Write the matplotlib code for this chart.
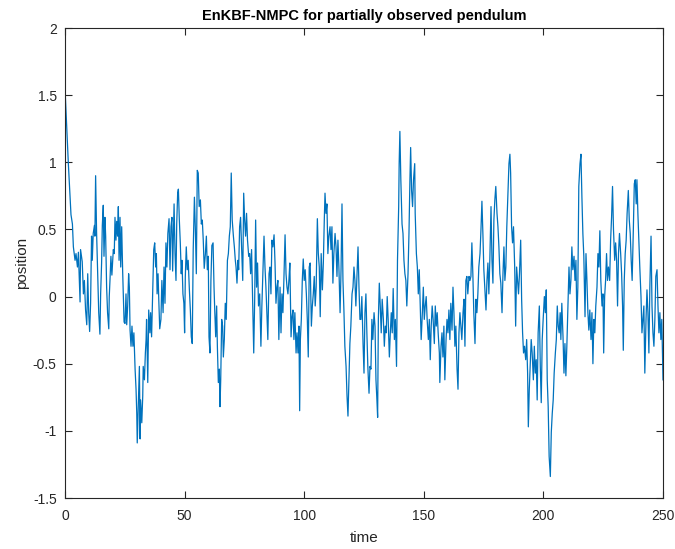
import numpy as np
import matplotlib
matplotlib.use("Agg")
import matplotlib.pyplot as plt

plt.rcParams['font.family'] = ['Liberation Sans', 'DejaVu Sans']
plt.rcParams['axes.unicode_minus'] = False

# ---- data (time, position) ----
time_a = [0, 1.4, 2.1, 2.5, 3.1, 3.5, 4.2, 4.6, 5.2, 5.6, 6.3, 6.5, 7.2, 7.7, 8.1, 8.6, 9.1, 9.5, 9.9, 10.3,
          10.7, 11.1, 11.4, 11.8, 12.3, 12.5, 12.8, 13.2, 13.7, 14.1, 14.6, 14.9, 15.3, 15.6, 16.0, 16.3, 16.7,
          17.0, 17.4, 17.8, 18.3, 18.5, 18.8, 19.2, 19.6, 20.2, 20.6, 20.9, 21.3, 21.6, 22.0, 22.3, 22.6, 23.0,
          23.3, 23.7, 24.1, 24.7, 25.1, 25.5, 25.8, 26.2, 26.6, 26.9, 27.2, 27.6, 28.0, 28.4, 28.8, 29.3, 29.7,
          30.0, 30.2, 30.5, 30.8, 31.1, 31.4, 31.6, 32.1, 32.5, 32.7, 33.2, 33.6, 33.9, 34.1, 34.6, 35.0, 35.5,
          35.8, 36.2, 36.6, 37.1, 37.5, 37.9, 38.2, 38.5, 38.9, 39.2, 39.6]
pos_a = [1.55, 0.99, 0.74, 0.61, 0.54, 0.37, 0.27, 0.32, 0.22, 0.33, -0.04, 0.35, 0.26, 0.02, 0.12, -0.10, -0.21,
         0.17, -0.12, -0.26, -0.05, 0.45, 0.27, 0.47, 0.53, 0.45, 0.90, 0.48, 0.15, -0.12, -0.28, 0.02, 0.25,
         0.53, 0.68, 0.30, 0.59, 0.45, 0.07, -0.12, -0.24, 0.00, 0.12, 0.30, 0.16, 0.35, 0.32, 0.59, 0.42, 0.56,
         0.45, 0.67, 0.27, 0.59, 0.22, 0.52, 0.19, -0.19, -0.20, 0.02, -0.21, -0.07, 0.17, 0.07, -0.25, -0.37,
         -0.22, -0.37, -0.27, -0.54, -0.69, -0.87, -1.09, -0.89, -0.72, -0.52, -1.06, -0.77, -0.94, -0.74, -0.52,
         -0.62, -0.42, -0.32, -0.17, -0.64, -0.10, -0.27, -0.12, -0.30, 0.00, 0.35, 0.40, 0.22, 0.32, 0.02, 0.17,
         -0.02, -0.24]

time_b = [40.1, 40.5, 41.0, 41.4, 41.8, 42.2, 42.6, 43.0, 43.5, 43.9, 44.3, 44.7, 45.0, 45.6, 46.0, 46.4, 46.7,
          47.1, 47.4, 47.8, 48.2, 48.6, 48.9, 49.3, 49.7, 50.0, 50.3, 50.7, 51.1, 51.5, 52.0, 52.4, 52.8, 53.2,
          53.6, 54.1, 54.5, 54.9, 55.3, 55.7, 56.1, 56.6, 57.0, 57.4, 57.8, 58.2, 58.7, 59.1, 59.5, 59.9, 60.2,
          60.6, 61.0, 61.4, 61.9, 62.3, 62.6, 63.0, 63.4, 63.7, 64.1, 64.5, 64.8, 65.1, 65.5, 65.9, 66.2, 66.6,
          67.0, 67.4, 67.9, 68.3, 68.7, 69.1, 69.5, 69.9, 70.4, 70.8, 71.2, 71.5, 71.9, 72.3, 72.6, 73.0, 73.4,
          73.8, 74.3, 74.7, 75.1, 75.5, 75.9, 76.3, 76.8, 77.2, 77.6, 78.0, 78.4, 78.9, 79.3, 79.7, 80.1, 80.5,
          80.9, 81.4]
pos_b = [-0.17, 0.12, -0.12, 0.22, -0.05, 0.40, 0.22, 0.47, 0.58, 0.20, 0.52, 0.59, 0.19, 0.69, 0.32, 0.12, 0.54,
         0.77, 0.80, 0.57, 0.40, 0.17, 0.27, 0.02, -0.05, -0.27, 0.15, 0.37, 0.20, 0.27, 0.05, -0.10, -0.30, -0.35,
         0.35, 0.74, 0.50, 0.17, 0.94, 0.92, 0.67, 0.72, 0.54, 0.57, 0.42, 0.21, 0.32, 0.45, 0.20, 0.30, -0.30,
         -0.42, 0.12, 0.38, 0.40, 0.07, -0.10, -0.30, -0.07, -0.37, -0.64, -0.54, -0.82, -0.62, -0.17, -0.22,
         -0.45, -0.32, -0.05, -0.17, 0.27, 0.32, 0.45, 0.52, 0.92, 0.57, 0.45, 0.37, 0.27, 0.22, 0.10, 0.27, 0.20,
         0.52, 0.59, 0.37, 0.12, 0.77, 0.57, 0.45, 0.62, 0.42, 0.30, 0.32, 0.17, 0.35, 0.02, -0.42, -0.02, 0.57,
         0.07, 0.25, -0.07, 0.02]

time_c = [81.9, 82.3, 82.8, 83.2, 83.6, 84.0, 84.4, 84.8, 85.3, 85.7, 86.1, 86.5, 86.9, 87.4, 87.8, 88.2, 88.6,
          89.0, 89.4, 89.9, 90.3, 90.7, 91.1, 91.5, 92.0, 92.4, 92.8, 93.2, 93.6, 94.0, 94.5, 94.9, 95.3, 95.7,
          96.1, 96.6, 97.0, 97.4, 97.8, 98.1, 98.4, 98.8, 99.2, 99.6, 100.0, 100.4, 100.9, 101.3, 101.7, 102.1,
          102.5, 103.0, 103.4, 103.8, 104.2, 104.6, 105.0, 105.5, 105.9, 106.3, 106.7, 107.1, 107.6, 108.0,
          108.4, 108.7, 109.1, 109.5, 109.9, 110.3, 110.8, 111.2, 111.6, 112.0, 112.4, 112.9, 113.3, 113.7,
          114.1, 114.5, 115.0, 115.4, 115.8, 116.2, 116.6, 117.0, 117.5, 117.9, 118.3, 118.7, 119.1, 119.5,
          120.0, 120.4, 120.8, 121.2, 121.6, 122.1, 122.5, 122.9, 123.3]
pos_c = [-0.37, -0.07, 0.22, 0.45, 0.22, 0.07, -0.12, -0.32, 0.17, 0.22, 0.02, 0.42, 0.37, 0.46, 0.25, -0.05,
         0.07, 0.12, -0.32, 0.07, -0.27, 0.02, -0.12, 0.12, 0.46, 0.17, 0.07, 0.02, 0.12, 0.25, -0.30, -0.15,
         -0.10, -0.32, -0.12, -0.42, -0.27, -0.42, -0.22, -0.85, -0.32, -0.17, 0.12, 0.28, 0.12, 0.20, 0.02,
         -0.17, -0.45, 0.22, 0.25, -0.22, -0.07, 0.02, 0.15, -0.07, 0.07, 0.58, 0.32, 0.22, -0.15, 0.32, 0.05,
         0.25, 0.57, 0.77, 0.62, 0.69, 0.32, 0.45, 0.52, 0.35, 0.52, 0.10, 0.32, 0.47, 0.37, 0.15, 0.42, 0.22,
         -0.12, 0.20, 0.69, 0.12, -0.10, -0.37, -0.52, -0.74, -0.89, -0.62, -0.35, -0.22, 0.02, 0.07, 0.22, 0.12,
         -0.07, 0.17, 0.37, 0.07, -0.17]

time_d = [123.7, 124.1, 124.6, 125.0, 125.4, 125.8, 126.2, 126.6, 127.1, 127.5, 127.9, 128.3, 128.7, 129.2,
          129.6, 130.0, 130.4, 130.7, 131.0, 131.4, 131.8, 132.2, 132.6, 133.1, 133.5, 133.9, 134.3, 134.7,
          135.1, 135.6, 136.0, 136.4, 136.8, 137.2, 137.7, 138.1, 138.6, 139.0, 139.5, 139.7, 140.0, 140.4,
          140.9, 141.3, 141.7, 142.1, 142.5, 142.9, 143.4, 143.8, 144.2, 144.5, 144.9, 145.3, 145.7, 146.2,
          146.4, 146.9, 147.3, 147.7, 148.1, 148.5, 148.9, 149.4, 149.8, 150.2, 150.6, 151.0, 151.4, 151.9,
          152.3, 152.7, 153.1, 153.5, 153.9, 154.4, 154.8, 155.2, 155.6, 156.0, 156.5, 156.7, 157.2, 157.6,
          158.0, 158.4, 158.8, 159.3, 159.7, 160.1, 160.5, 160.9, 161.3, 161.8, 162.2, 162.6, 163.0, 163.4,
          163.9, 164.3, 164.7, 165.1]
pos_d = [-0.17, 0.00, -0.35, -0.57, -0.12, 0.02, -0.27, -0.52, -0.72, -0.52, -0.54, -0.17, -0.32, -0.12, -0.22,
         -0.62, -0.77, -0.90, -0.17, 0.10, -0.07, -0.27, -0.02, -0.17, -0.37, -0.22, -0.27, 0.00, -0.17, -0.45,
         -0.27, -0.12, -0.27, 0.06, -0.32, -0.17, -0.52, 0.27, 0.67, 0.99, 1.23, 0.87, 0.54, 0.47, 0.27, 0.17,
         0.12, -0.07, 0.17, 0.47, 0.87, 1.11, 0.79, 0.67, 0.87, 0.99, 0.62, 0.32, 0.22, 0.02, 0.20, -0.05, -0.32,
         -0.12, 0.07, -0.17, -0.07, 0.00, -0.17, -0.32, -0.17, -0.47, -0.22, -0.07, -0.17, -0.35, -0.07, -0.22,
         -0.12, -0.27, -0.42, -0.64, -0.37, -0.27, -0.45, -0.22, -0.62, -0.32, -0.17, -0.27, -0.10, -0.32, -0.05,
         -0.25, 0.07, -0.12, -0.37, -0.22, -0.54, -0.69, -0.27, -0.12]

time_e = [165.5, 165.9, 166.4, 166.8, 167.2, 167.6, 168.0, 168.4, 168.9, 169.3, 169.7, 170.1, 170.5, 170.9,
          171.4, 171.8, 172.2, 172.6, 173.0, 173.5, 173.9, 174.3, 174.7, 175.1, 175.5, 176.0, 176.4, 176.8,
          177.2, 177.6, 178.1, 178.5, 178.9, 179.3, 179.7, 180.1, 180.6, 181.0, 181.4, 181.8, 182.2, 182.7,
          183.1, 183.5, 183.9, 184.3, 184.7, 185.2, 185.6, 186.0, 186.3, 186.7, 187.1, 187.5, 188.0, 188.4,
          188.8, 189.2, 189.6, 190.0, 190.5, 190.9, 191.3, 191.7, 192.1, 192.6, 193.0, 193.4, 193.7, 194.1,
          194.5, 194.9, 195.3, 195.8, 196.2, 196.6, 197.0, 197.4, 197.8, 198.3, 198.7, 199.1, 199.5, 199.9,
          200.4, 200.8, 201.2, 201.6, 202.0, 202.4, 202.9, 203.3, 203.7, 204.1, 204.5, 205.0, 205.4, 205.8,
          206.2, 206.6, 207.0]
pos_e = [-0.22, -0.32, -0.12, -0.02, -0.37, 0.12, 0.15, 0.02, 0.15, 0.12, 0.15, 0.40, 0.17, -0.12, -0.35, -0.02,
         -0.12, 0.02, 0.22, 0.32, 0.50, 0.71, 0.47, 0.20, 0.07, -0.10, 0.12, 0.25, 0.02, 0.27, 0.67, 0.27, 0.10,
         0.57, 0.72, 0.82, 0.62, 0.52, 0.37, 0.17, 0.10, -0.12, 0.17, 0.37, 0.12, 0.22, 0.52, 0.77, 0.99, 1.06,
         0.92, 0.52, 0.40, 0.52, 0.22, -0.22, 0.22, 0.12, 0.02, 0.17, 0.42, -0.02, -0.27, -0.42, -0.37, -0.47,
         -0.32, -0.57, -0.97, -0.69, -0.50, -0.32, -0.42, -0.62, -0.37, -0.57, -0.47, -0.77, -0.27, -0.07, -0.52,
         -0.79, -0.32, -0.17, 0.00, -0.12, 0.05, -0.62, -0.82, -1.19, -1.34, -1.01, -0.87, -0.77, -0.57, -0.42,
         -0.32, -0.07, -0.22, -0.27, -0.12]

time_f = [207.3, 207.7, 208.2, 208.6, 209.0, 209.4, 209.8, 210.2, 210.7, 211.1, 211.5, 211.9, 212.3, 212.8,
          213.2, 213.6, 214.0, 214.4, 214.8, 215.3, 215.7, 216.1, 216.5, 216.9, 217.4, 217.8, 218.2, 218.6,
          219.0, 219.4, 219.9, 220.3, 220.7, 221.1, 221.5, 221.9, 222.4, 222.8, 223.2, 223.6, 224.0, 224.5,
          224.9, 225.2, 225.6, 226.0, 226.4, 226.8, 227.2, 227.7, 228.1, 228.5, 228.9, 229.3, 229.8, 230.2,
          230.6, 231.0, 231.4, 231.8, 232.3, 232.7, 233.1, 233.4, 233.8, 234.2, 234.6, 235.0, 235.5, 235.9,
          236.3, 236.7, 237.1, 237.6, 238.0, 238.4, 238.8, 239.1, 239.5, 239.9, 240.3, 240.8, 241.2, 241.6,
          242.0, 242.4, 242.9, 243.3, 243.7, 244.1, 244.5, 245.0, 245.4, 245.8, 246.2, 246.6, 247.0, 247.5,
          247.9, 248.3, 248.7, 249.1, 249.5, 250.0]
pos_f = [-0.32, -0.05, -0.30, -0.57, -0.35, -0.59, -0.37, -0.12, 0.22, 0.02, 0.12, 0.37, 0.20, 0.30, 0.12, 0.27,
         -0.17, 0.07, 0.82, 0.99, 1.06, 0.74, 0.47, 0.30, -0.15, 0.32, 0.12, -0.12, -0.25, -0.10, -0.32, -0.12,
         -0.50, -0.17, -0.27, -0.07, 0.07, 0.32, 0.22, 0.49, 0.12, -0.07, 0.02, -0.42, 0.00, 0.12, 0.32, 0.12,
         0.22, 0.12, 0.42, 0.59, 0.82, 0.50, 0.27, 0.40, 0.27, -0.07, 0.32, 0.47, 0.32, 0.17, -0.07, -0.40, 0.12,
         0.32, 0.42, 0.62, 0.79, 0.57, 0.47, 0.27, 0.12, 0.50, 0.84, 0.87, 0.69, 0.87, 0.62, 0.42, 0.22, 0.00,
         -0.27, -0.17, -0.07, -0.57, -0.17, 0.05, -0.12, -0.42, 0.07, 0.45, -0.07, -0.27, -0.37, -0.17, 0.15,
         0.20, -0.07, -0.27, -0.12, -0.32, -0.17, -0.62]

x_ticks = [0, 50, 100, 150, 200, 250]
y_ticks = [-1.5, -1, -0.5, 0, 0.5, 1, 1.5, 2]
y_tick_labels = ['-1.5', '-1', '-0.5', '0', '0.5', '1', '1.5', '2']

time = np.concatenate([time_a, time_b, time_c, time_d, time_e, time_f])
position = np.concatenate([pos_a, pos_b, pos_c, pos_d, pos_e, pos_f])

fig = plt.figure(figsize=(6.75, 5.49), dpi=100)
ax = fig.add_axes([65 / 675, 1 - 498 / 549, (663 - 65) / 675, (498 - 28) / 549])
ax.plot(time, position, color='#0072BD', linewidth=0.9)

ax.set_xlim(0, 250)
ax.set_ylim(-1.5, 2)
ax.set_xticks(x_ticks)
ax.set_xticklabels([str(v) for v in x_ticks])
ax.set_yticks(y_ticks)
ax.set_yticklabels(y_tick_labels)

axis_col = '#262626'
for s in ax.spines.values():
    s.set_color(axis_col)
    s.set_linewidth(0.8)
ax.tick_params(direction='in', length=5, width=0.8, colors=axis_col, labelsize=10,
               top=True, right=True)
ax.tick_params(axis='x', pad=8)
ax.tick_params(axis='y', pad=6)

ax.set_title('EnKBF-NMPC for partially observed pendulum', fontsize=10.5, fontweight='bold',
             color='black', pad=6)
ax.set_xlabel('time', fontsize=11, color=axis_col, labelpad=6)
ax.set_ylabel('position', fontsize=11, color=axis_col, labelpad=3)

fig.savefig('out.png', dpi=100)
